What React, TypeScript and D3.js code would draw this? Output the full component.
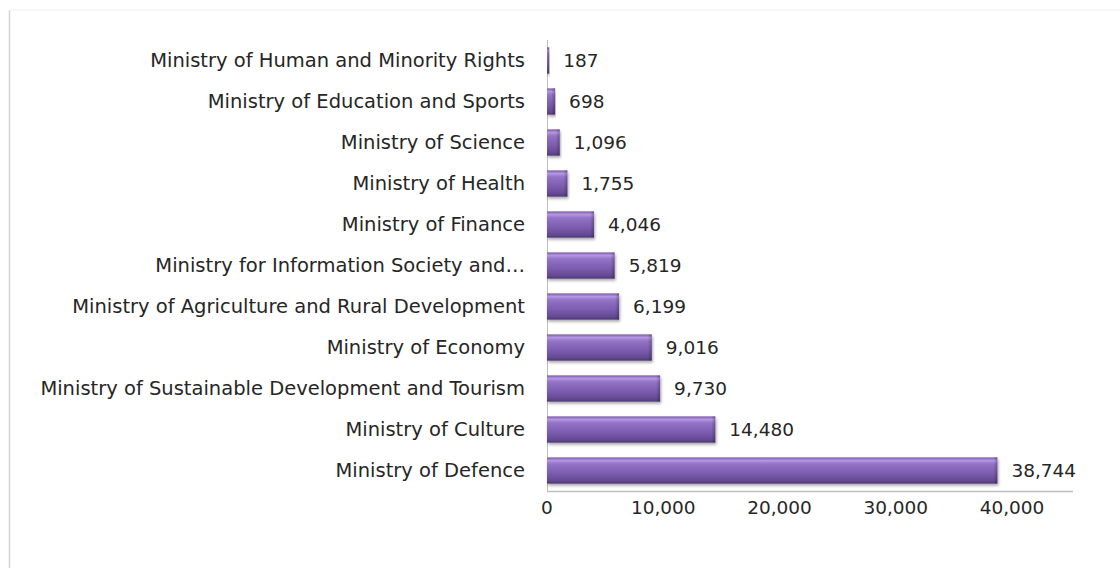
import React from "react";
import * as d3 from "d3";

const categories: string[] = [
  "Ministry of Human and Minority Rights",
  "Ministry of Education and Sports",
  "Ministry of Science",
  "Ministry of Health",
  "Ministry of Finance",
  "Ministry for Information Society and…",
  "Ministry of Agriculture and Rural Development",
  "Ministry of Economy",
  "Ministry of Sustainable Development and Tourism",
  "Ministry of Culture",
  "Ministry of Defence",
];
const values: number[] = [187, 698, 1096, 1755, 4046, 5819, 6199, 9016, 9730, 14480, 38744];
const tickValues: number[] = [0, 10000, 20000, 30000, 40000];

const W = 1120;
const H = 568;
const plotLeft = 547;
const plotRight = 1073;
const plotTop = 40;
const plotBottom = 491;
const FONT = "'DejaVu Sans', sans-serif";

export default function App() {
  const x = d3.scaleLinear().domain([0, 40000]).range([plotLeft, 1012]);
  const y = d3.scaleBand<string>().domain(categories).range([plotTop, plotBottom]).paddingInner(0.36).paddingOuter(0.18);
  const fmt = d3.format(",");
  const bh = y.bandwidth();

  return (
    <svg width={W} height={H} style={{ display: "block", position: "absolute", left: 0, top: 0 }}>
      <defs>
        <linearGradient id="barGrad" x1="0" y1="0" x2="0" y2="1">
          <stop offset="0" stopColor="#7a5aa9" />
          <stop offset="0.12" stopColor="#b596e2" />
          <stop offset="0.25" stopColor="#9373c6" />
          <stop offset="0.6" stopColor="#7d5db0" />
          <stop offset="0.88" stopColor="#654a92" />
          <stop offset="1" stopColor="#4e3873" />
        </linearGradient>
        <linearGradient id="endGrad" x1="0" y1="0" x2="1" y2="0">
          <stop offset="0" stopColor="#000" stopOpacity="0" />
          <stop offset="1" stopColor="#000" stopOpacity="0.25" />
        </linearGradient>
        <filter id="shadow" x="-5%" y="-20%" width="115%" height="160%">
          <feGaussianBlur in="SourceAlpha" stdDeviation="1.5" />
          <feOffset dx="1" dy="2" result="b" />
          <feComponentTransfer>
            <feFuncA type="linear" slope="0.35" />
          </feComponentTransfer>
          <feMerge>
            <feMergeNode />
            <feMergeNode in="SourceGraphic" />
          </feMerge>
        </filter>
      </defs>
      <rect x={0} y={0} width={W} height={H} fill="#ffffff" />
      <line x1={9.5} y1={10} x2={9.5} y2={H} stroke="#d4d4d4" strokeWidth={1.5} />
      <line x1={9.5} y1={10} x2={W} y2={10} stroke="#f0f0f0" strokeWidth={1} />

      {/* axes */}
      <line x1={plotLeft + 0.5} y1={plotTop} x2={plotLeft + 0.5} y2={plotBottom} stroke="#bfbfbf" strokeWidth={1} />
      <line x1={plotLeft} y1={plotBottom + 0.5} x2={plotRight} y2={plotBottom + 0.5} stroke="#bfbfbf" strokeWidth={1.5} />

      {/* bars */}
      {categories.map((c, i) => {
        const y0 = y(c)!;
        const w = Math.max(1, x(values[i]) - x(0));
        return (
          <g key={c} filter="url(#shadow)">
            <rect x={x(0)} y={y0} width={w} height={bh} fill="url(#barGrad)" />
            <rect x={x(0) + Math.max(0, w - 4)} y={y0} width={Math.min(4, w)} height={bh} fill="url(#endGrad)" />
          </g>
        );
      })}

      {/* category labels */}
      {categories.map((c) => (
        <text
          key={"l" + c}
          x={525}
          y={y(c)! + bh / 2}
          dy="0.35em"
          textAnchor="end"
          fontFamily={FONT}
          fontSize={19.5}
          fill="#262626"
        >
          {c}
        </text>
      ))}

      {/* value labels */}
      {categories.map((c, i) => (
        <text
          key={"v" + c}
          x={x(values[i]) + 14}
          y={y(c)! + bh / 2}
          dy="0.35em"
          textAnchor="start"
          fontFamily={FONT}
          fontSize={18.5}
          fill="#262626"
        >
          {fmt(values[i])}
        </text>
      ))}

      {/* x tick labels */}
      {tickValues.map((t) => (
        <text
          key={"t" + t}
          x={x(t)}
          y={508}
          dy="0.35em"
          textAnchor="middle"
          fontFamily={FONT}
          fontSize={18.5}
          fill="#262626"
        >
          {fmt(t)}
        </text>
      ))}
    </svg>
  );
}
